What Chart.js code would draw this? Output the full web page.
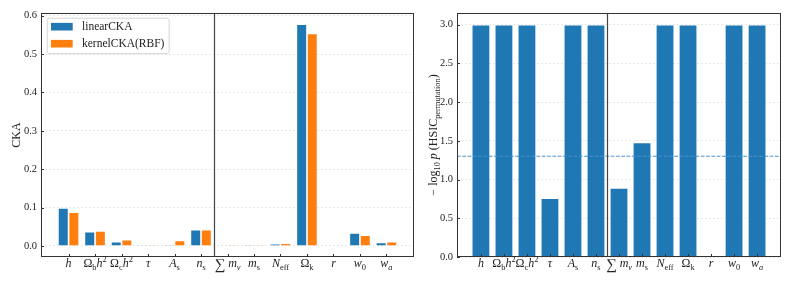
<!DOCTYPE html>
<html>
<head>
<meta charset="utf-8">
<script src="https://cdn.jsdelivr.net/npm/chart.js@4.4.0/dist/chart.umd.min.js"></script>
<style>
	body { margin: 0; background: #fff; }
	#wrap { position: relative; width: 793px; height: 283px; }
	canvas { position: absolute; top: 0; }
</style>
</head>
<body>
<div id="wrap">
	<canvas id="ckaChart" width="420" height="283" style="left:0"></canvas>
	<canvas id="pvalChart" width="373" height="283" style="left:420px"></canvas>
</div>
<script>
// [..] = italic, _{..} = subscript, ^{..} = superscript
const params = ["[h]", "Ω_{b}[h]^{2}", "Ω_{c}[h]^{2}", "[τ]", "[A]_{s}", "[n]_{s}",
	"∑\u2009[m]_{[ν]}", "[m]_{s}", "[N]_{eff}", "Ω_{k}", "[r]", "[w]_{0}", "[w]_{[a]}"];

const linearCKA = [0.099, 0.037, 0.011, 0.002, 0.003, 0.042, 0.001, 0.003, 0.006, 0.578, 0.0005, 0.034, 0.009];
const kernelCKA = [0.088, 0.039, 0.016, 0.003, 0.014, 0.042, 0.003, 0.003, 0.007, 0.554, 0.0005, 0.028, 0.011];
const negLogP = [3.0, 3.0, 3.0, 0.76, 3.0, 3.0, 0.89, 1.48, 3.0, 3.0, 0, 3.0, 3.0];

const ckaTicks = [0.0, 0.1, 0.2, 0.3, 0.4, 0.5, 0.6];
const pTicks = [0.0, 0.5, 1.0, 1.5, 2.0, 2.5, 3.0];
const pLevel = 0.05;
const splitAt = 5.5;

const BLUE = "#1f77b4";
const ORANGE = "#ff7f0e";
const SERIF = '"Liberation Serif", "DejaVu Serif", serif';

function parseRich(str) {
	var segs = [], italic = false, shift = 0, buf = "";
	function push() {
		if (buf) segs.push({ t: buf, it: italic, sh: shift });
		buf = "";
	}
	for (var i = 0; i < str.length; i++) {
		var c = str[i];
		if (c === "[") { push(); italic = true; }
		else if (c === "]") { push(); italic = false; }
		else if ((c === "_" || c === "^") && str[i + 1] === "{") { push(); shift = c === "_" ? -1 : 1; i++; }
		else if (c === "}") { push(); shift = 0; }
		else buf += c;
	}
	push();
	return segs;
}

function isSum(s) {
	return s.t.trim() === "∑";
}

function segFont(s, size) {
	var sz = s.sh ? size * 0.7 : size;
	if (isSum(s)) sz = size * 1.25;
	return (s.it ? "italic " : "") + sz + "px " + SERIF;
}

// draws rich text centred on x, with baseline y
function drawRich(ctx, str, x, y, size) {
	var segs = parseRich(str);
	var w = 0;
	segs.forEach(s => {
		ctx.font = segFont(s, size);
		s.w = ctx.measureText(s.t).width;
		w += s.w;
	});
	var cx = x - w / 2;
	ctx.textAlign = "left";
	ctx.textBaseline = "alphabetic";
	segs.forEach(s => {
		ctx.font = segFont(s, size);
		var dy = s.sh < 0 ? size * 0.22 : s.sh > 0 ? -size * 0.38 : 0;
		if (isSum(s)) dy = size * 0.14;
		ctx.fillText(s.t, cx, y + dy);
		cx += s.w;
	});
}

const panelDecor = {
	id: "panelDecor",
	afterDatasetsDraw(chart, args, opts) {
		const { ctx, chartArea: a, scales: { x, y } } = chart;
		ctx.save();
		if (opts.threshold !== undefined) {
			var yt = y.getPixelForValue(opts.threshold);
			ctx.strokeStyle = "#4a90c9";
			ctx.lineWidth = 1;
			ctx.setLineDash([3.7, 1.6]);
			ctx.beginPath();
			ctx.moveTo(a.left, yt);
			ctx.lineTo(a.right, yt);
			ctx.stroke();
			ctx.setLineDash([]);
		}
		// divider between parameter groups
		var xd = Math.round(x.getPixelForValue(splitAt)) + 0.5;
		ctx.strokeStyle = "#444";
		ctx.lineWidth = 1.2;
		ctx.beginPath();
		ctx.moveTo(xd, a.top);
		ctx.lineTo(xd, a.bottom);
		ctx.stroke();
		// frame
		ctx.strokeStyle = "#333";
		ctx.lineWidth = 1;
		ctx.strokeRect(Math.round(a.left) + 0.5, Math.round(a.top) + 0.5,
			Math.round(a.right - a.left) - 1, Math.round(a.bottom - a.top) - 1);
		// inward ticks
		ctx.beginPath();
		y.ticks.forEach(t => {
			var py = Math.round(y.getPixelForValue(t.value)) + 0.5;
			ctx.moveTo(a.left, py);
			ctx.lineTo(a.left + 3, py);
		});
		params.forEach((p, i) => {
			var px = Math.round(x.getPixelForValue(i)) + 0.5;
			ctx.moveTo(px, a.bottom);
			ctx.lineTo(px, a.bottom - 3);
		});
		ctx.stroke();
		// x labels
		ctx.fillStyle = "#222";
		params.forEach((p, i) => {
			drawRich(ctx, p, x.getPixelForValue(i), a.bottom + 10, 12);
		});
		// y title
		ctx.save();
		ctx.translate(opts.titleX, (a.top + a.bottom) / 2);
		ctx.rotate(-Math.PI / 2);
		drawRich(ctx, opts.title, 0, 12 * 0.33, 12);
		ctx.restore();
		// legend
		if (opts.legend) {
			var lx = a.left + 5.7, ly = a.top + 4.7;
			ctx.fillStyle = "rgba(255,255,255,0.85)";
			ctx.strokeStyle = "#d4d4d4";
			ctx.lineWidth = 1;
			ctx.beginPath();
			ctx.roundRect(lx + 0.5, ly + 0.5, 122, 35.5, 2.5);
			ctx.fill();
			ctx.stroke();
			chart.data.datasets.forEach((ds, k) => {
				var cy = a.top + 13.7 + k * 17;
				ctx.fillStyle = ds.backgroundColor;
				ctx.fillRect(a.left + 10, cy - 3.8, 21.7, 7.6);
				ctx.fillStyle = "#222";
				ctx.font = "11.5px " + SERIF;
				ctx.textBaseline = "middle";
				ctx.fillText(ds.label, a.left + 41, cy);
			});
		}
		ctx.restore();
	}
};

function makeChart(id, datasets, yMin, yMax, yTicks, yWidth, padRight, deco) {
	return new Chart(document.getElementById(id), {
		type: "bar",
		data: { datasets: datasets },
		options: {
			responsive: false,
			animation: false,
			events: [],
			layout: { padding: { left: 0, top: 13, right: padRight, bottom: 0 } },
			datasets: { bar: { categoryPercentage: 0.8, barPercentage: 1.0 } },
			scales: {
				x: {
					type: "linear",
					offset: false,
					min: -1.04,
					max: 13.04,
					ticks: { display: false },
					grid: { display: false, offset: false },
					border: { display: false },
					afterFit: s => { s.height = 26; },
				},
				y: {
					min: yMin,
					max: yMax,
					afterBuildTicks: s => { s.ticks = yTicks.map(v => ({ value: v })); },
					afterFit: s => { s.width = yWidth; },
					ticks: {
						padding: 4,
						color: "#222",
						font: { family: SERIF, size: 10.5 },
						callback: v => v.toFixed(1),
					},
					grid: { color: "#e2e2e2", lineWidth: 0.8, drawTicks: false },
					border: { display: false, dash: [2, 2] },
				},
			},
			plugins: {
				legend: { display: false },
				tooltip: { enabled: false },
				panelDecor: deco,
			},
		},
		plugins: [panelDecor],
	});
}

function points(vals) {
	return vals.map((v, i) => ({ x: i, y: v }));
}

makeChart("ckaChart", [
	{ label: "linearCKA", data: points(linearCKA), backgroundColor: BLUE, borderColor: "rgba(255,255,255,0.45)", borderWidth: 0.8 },
	{ label: "kernelCKA(RBF)", data: points(kernelCKA), backgroundColor: ORANGE, borderColor: "rgba(255,255,255,0.45)", borderWidth: 0.8 },
], -0.0289, 0.607, ckaTicks, 41, 6, { title: "CKA", titleX: 16, legend: true });

makeChart("pvalChart", [
	{ label: "HSIC permutation", data: points(negLogP), backgroundColor: BLUE, borderColor: "rgba(255,255,255,0.45)", borderWidth: 0.8 },
], 0, 3.15, pTicks, 37, 12, { title: "− log_{10} [p] (HSIC_{permutation})", titleX: 13, threshold: -Math.log10(pLevel) });
</script>
</body>
</html>
